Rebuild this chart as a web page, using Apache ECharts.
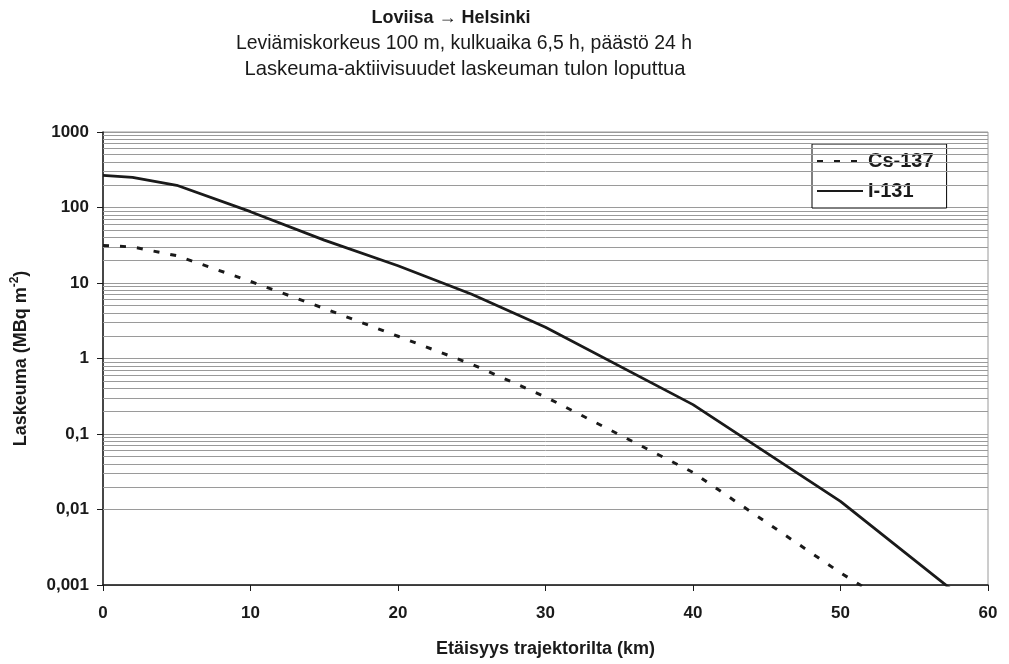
<!DOCTYPE html>
<html>
<head>
<meta charset="utf-8">
<script src="https://cdn.jsdelivr.net/npm/echarts@6/dist/echarts.min.js"></script>
<style>
  html, body { margin: 0; padding: 0; background: #fff; }
  #chart { width: 1009px; height: 664px; }
</style>
</head>
<body>
<div id="chart"></div>
<script>
// Distance along the trajectory (km) and deposition (MBq/m²) per nuclide
const distanceKm = [0, 2, 5, 10, 15, 20, 25, 30, 40, 50, 60];
const cs137 = [31.5, 30, 23, 10.5, 4.6, 1.97, 0.84, 0.31, 0.031, 0.00145, 0.00009];
const i131 = [267, 251, 197, 88, 37, 16.9, 7.1, 2.6, 0.245, 0.0128, 0.00036];

// Decade tick values and their Finnish-style labels
const yTickValues = [0.001, 0.01, 0.1, 1, 10, 100, 1000];
const yTickLabels = ['0,001', '0,01', '0,1', '1', '10', '100', '1000'];
const xTickLabels = ['0', '10', '20', '30', '40', '50', '60'];

const titleLines = [
  'Loviisa \u2192 Helsinki',
  'Leviämiskorkeus 100 m, kulkuaika 6,5 h, päästö 24 h',
  'Laskeuma-aktiivisuudet laskeuman tulon loputtua'
];

// Intermediate grid lines 2..9 inside each decade
const minorGrid = [];
for (let d = 0; d < yTickValues.length - 1; d++) {
  for (let k = 2; k <= 9; k++) {
    minorGrid.push({ yAxis: yTickValues[d] * k });
  }
}

const toPairs = (xs, ys) => xs.map((x, i) => [x, ys[i]]);

function yLabel(v) {
  let best = 0;
  for (let i = 1; i < yTickValues.length; i++) {
    if (Math.abs(Math.log10(v) - Math.log10(yTickValues[i])) <
        Math.abs(Math.log10(v) - Math.log10(yTickValues[best]))) best = i;
  }
  return yTickLabels[best];
}

const titleFont = "'Liberation Sans', Arial, sans-serif";
const axisFont = "'Liberation Sans', Arial, sans-serif";
const ink = '#1a1a1a';
const gridGray = '#9a9a9a';

const chart = echarts.init(document.getElementById('chart'), null, { renderer: 'canvas' });

chart.setOption({
  animation: false,
  backgroundColor: '#ffffff',
  title: [
    {
      text: titleLines[0], left: 446, top: 4, textAlign: 'center',
      textStyle: { fontFamily: titleFont, fontSize: 18, fontWeight: 'bold', color: ink }
    },
    {
      text: titleLines[1], left: 459, top: 29, textAlign: 'center',
      textStyle: { fontFamily: titleFont, fontSize: 19.4, fontWeight: 'normal', color: ink }
    },
    {
      text: titleLines[2], left: 460, top: 54, textAlign: 'center',
      textStyle: { fontFamily: titleFont, fontSize: 20.2, fontWeight: 'normal', color: ink }
    }
  ],
  legend: {
    orient: 'vertical',
    left: 812,
    top: 144,
    data: ['Cs-137', 'I-131'],
    backgroundColor: '#ffffff',
    borderColor: '#000000',
    borderWidth: 1,
    borderRadius: 0,
    padding: [7, 13, 7, 4],
    itemWidth: 46,
    itemHeight: 14,
    itemGap: 10,
    itemStyle: { color: 'transparent', borderColor: 'transparent', borderWidth: 0, opacity: 0 },
    textStyle: { fontFamily: axisFont, fontSize: 20, fontWeight: 'bold', color: ink }
  },
  grid: {
    left: 103, right: 21, top: 132, bottom: 79,
    show: true, borderColor: gridGray, borderWidth: 1,
    containLabel: false,
    outerBoundsMode: 'none'
  },
  xAxis: {
    type: 'value',
    min: 0, max: 60, interval: 10,
    name: 'Etäisyys trajektorilta (km)',
    nameLocation: 'middle',
    nameGap: 55,
    nameTextStyle: { fontFamily: axisFont, fontSize: 18, fontWeight: 'bold', color: ink },
    axisLine: { show: true, lineStyle: { color: ink, width: 1.5 } },
    axisTick: { show: true, length: 6, lineStyle: { color: ink } },
    axisLabel: {
      margin: 20,
      fontFamily: axisFont, fontSize: 17, fontWeight: 'bold', color: ink,
      formatter: v => xTickLabels[Math.round(v / 10)]
    },
    splitLine: { show: false }
  },
  yAxis: {
    type: 'log',
    logBase: 10,
    min: 0.001, max: 1000,
    interval: 1,
    name: '{b|Laskeuma (MBq m}{s|-2}{b|)}',
    nameLocation: 'middle',
    nameGap: 70,
    nameTextStyle: {
      rich: {
        b: { fontFamily: axisFont, fontSize: 18, fontWeight: 'bold', color: ink, lineHeight: 24 },
        s: { fontFamily: axisFont, fontSize: 12, fontWeight: 'bold', color: ink, lineHeight: 14, verticalAlign: 'top' }
      }
    },
    axisLine: { show: true, lineStyle: { color: ink, width: 1.5 } },
    axisTick: { show: true, length: 6, lineStyle: { color: ink } },
    axisLabel: {
      margin: 14,
      fontFamily: axisFont, fontSize: 17, fontWeight: 'bold', color: ink,
      formatter: yLabel
    },
    splitLine: { show: true, lineStyle: { color: gridGray, width: 1 } }
  },
  series: [
    {
      // intermediate horizontal grid lines
      name: 'grid-minor',
      type: 'line',
      data: [],
      silent: true,
      z: 1,
      markLine: {
        silent: true,
        symbol: ['none', 'none'],
        label: { show: false },
        lineStyle: { color: gridGray, width: 1, type: 'solid' },
        emphasis: { disabled: true },
        data: minorGrid
      }
    },
    {
      name: 'Cs-137',
      type: 'line',
      data: toPairs(distanceKm, cs137),
      symbol: 'none',
      z: 5,
      color: ink,
      lineStyle: { color: ink, width: 3, type: [6, 11] }
    },
    {
      name: 'I-131',
      type: 'line',
      data: toPairs(distanceKm, i131),
      symbol: 'none',
      z: 5,
      color: ink,
      lineStyle: { color: ink, width: 2.8, type: 'solid' }
    }
  ]
});
</script>
</body>
</html>
